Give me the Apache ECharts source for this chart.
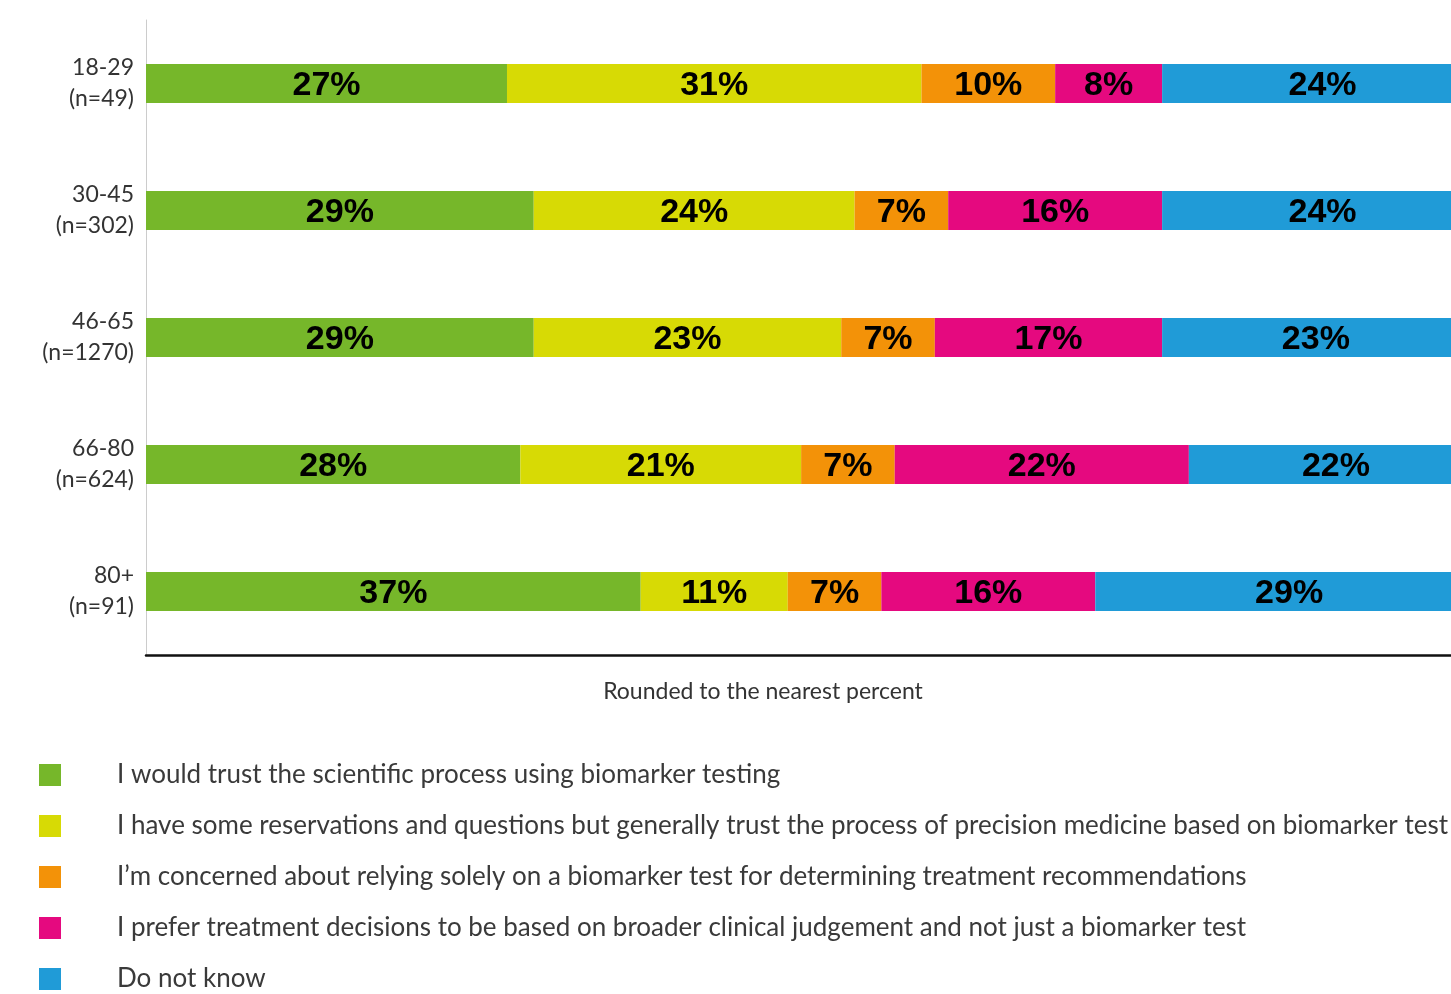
<!DOCTYPE html>
<html>
<head>
<meta charset="utf-8">
<script src="https://cdn.jsdelivr.net/npm/echarts@6/dist/echarts.min.js"></script>
<style>html,body{margin:0;padding:0;background:#fff}#c{width:1451px;height:994px}</style>
</head>
<body>
<div id="c"></div>
<script>
const ageGroups = ['18-29', '30-45', '46-65', '66-80', '80+'];
const sampleSizes = ['n=49', 'n=302', 'n=1270', 'n=624', 'n=91'];
const seriesNames = [
  'I would trust the scientific process using biomarker testing',
  'I have some reservations and questions but generally trust the process of precision medicine based on biomarker test',
  'I\u2019m concerned about relying solely on a biomarker test for determining treatment recommendations',
  'I prefer treatment decisions to be based on broader clinical judgement and not just a biomarker test',
  'Do not know'
];
const trustValues = [27, 29, 29, 28, 37];
const reservationsValues = [31, 24, 23, 21, 11];
const concernedValues = [10, 7, 7, 7, 7];
const clinicalValues = [8, 16, 17, 22, 16];
const dontKnowValues = [24, 24, 23, 22, 29];
const colors = ['#76b72a', '#d7da05', '#f39208', '#e5097f', '#209bd7'];
const axisNote = 'Rounded to the nearest percent';

const allValues = [trustValues, reservationsValues, concernedValues, clinicalValues, dontKnowValues];
const chart = echarts.init(document.getElementById('c'));
chart.setOption({
  animation: false,
  grid: { left: 146, width: 1337, top: 20, bottom: 339, containLabel: false, outerBoundsMode: 'none' },
  legend: {
    orient: 'vertical', left: 39, top: 762, height: 300, padding: 0,
    itemWidth: 22, itemHeight: 22, itemGap: 25,
    icon: 'rect',
    textStyle: { fontFamily: 'Lato', fontSize: 26, color: '#3a3a3a', lineHeight: 22, padding: [0, 0, 0, 51] },
    data: seriesNames
  },
  xAxis: {
    type: 'value', min: 0, max: 100,
    axisLabel: { show: false }, splitLine: { show: false }, axisTick: { show: false },
    axisLine: { show: true, lineStyle: { color: '#111', width: 2.5 } }
  },
  yAxis: {
    type: 'category', inverse: true,
    data: ageGroups.map((g, i) => g + '\n(' + sampleSizes[i] + ')'),
    axisTick: { show: false },
    axisLine: { show: true, lineStyle: { color: '#cccccc', width: 1 } },
    axisLabel: { fontFamily: 'Lato', fontSize: 23, color: '#333', lineHeight: 31, margin: 12, align: 'right' }
  },
  graphic: [{
    type: 'text', x: 763, y: 692,
    style: { text: axisNote, fontFamily: 'Lato', fontSize: 23, fill: '#333', align: 'center', verticalAlign: 'middle' }
  }],
  series: allValues.map((vals, i) => ({
    name: seriesNames[i], type: 'bar', stack: 'total', data: vals,
    barWidth: 39,
    itemStyle: { color: colors[i] },
    label: { show: true, position: 'inside', offset: [0, 2], formatter: '{c}%', fontFamily: 'Liberation Sans', fontWeight: 'bold', fontSize: 34, color: '#000' }
  }))
});
</script>
</body>
</html>
